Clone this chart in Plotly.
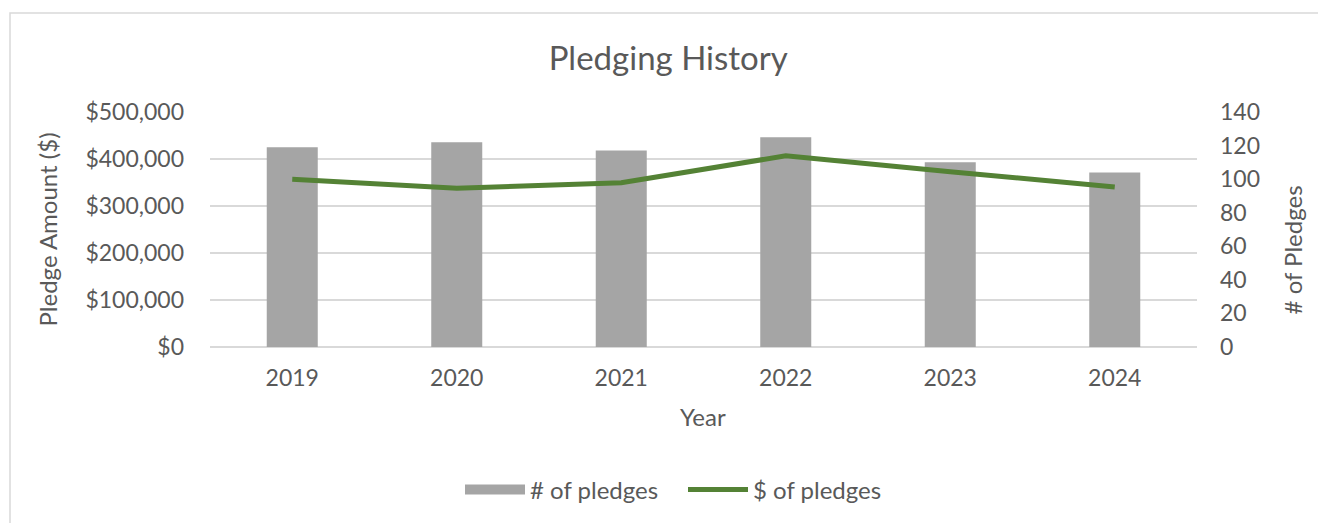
import plotly.graph_objects as go

years = ["2019", "2020", "2021", "2022", "2023", "2024"]
num_pledges = [119, 122, 117, 125, 110, 104]
dollar_pledges = [356800, 337700, 349600, 406800, 372900, 340500]
left_ticks = [0, 100000, 200000, 300000, 400000, 500000]
left_tick_text = ["$0", "$100,000", "$200,000", "$300,000", "$400,000", "$500,000"]
right_ticks = [0, 20, 40, 60, 80, 100, 120, 140]

FONT = "Lato"
TXT = "#595959"
GRID = "#d9d9d9"
BAR = "#a5a5a5"
LINE = "#548235"

W, H = 1318, 523
L, R, T, B = 210, 121, 112, 175
pw, ph = W - L - R, H - T - B

def px(x):
    return (x - L) / pw

def py(y):
    return (H - B - y) / ph

fig = go.Figure()
fig.add_trace(go.Bar(
    x=years, y=num_pledges, name="# of pledges",
    marker=dict(color=BAR, line=dict(width=0)),
    width=0.31, yaxis="y", showlegend=False,
))
# legend entry for the bars (wide grey swatch, as in the original)
fig.add_trace(go.Scatter(
    x=[None], y=[None], name="# of pledges", mode="lines",
    line=dict(color=BAR, width=13), yaxis="y", showlegend=True,
    hoverinfo="skip",
))
fig.add_trace(go.Scatter(
    x=years, y=dollar_pledges, name="$ of pledges", mode="lines",
    line=dict(color=LINE, width=5), yaxis="y2",
))

fig.update_layout(
    width=W, height=H,
    margin=dict(l=L, r=R, t=T, b=B),
    paper_bgcolor="white", plot_bgcolor="white",
    font=dict(family=FONT, color=TXT, size=23),
    title=dict(text="Pledging History", x=0.507, xanchor="center",
               y=1 - 58 / H, yanchor="middle",
               font=dict(family=FONT, size=33, color=TXT)),
    xaxis=dict(type="category", showgrid=False, showline=False,
               ticks="", tickfont=dict(size=23, color=TXT),
               ticklabelstandoff=15),
    yaxis=dict(side="right", range=[0, 140], tickvals=right_ticks,
               showgrid=False, zeroline=False, showline=False,
               tickfont=dict(size=23, color=TXT), ticklabelstandoff=22),
    yaxis2=dict(side="left", overlaying="y", range=[0, 500000],
                tickvals=left_ticks, ticktext=left_tick_text,
                showgrid=True, gridcolor=GRID, gridwidth=1.5,
                zeroline=True, zerolinecolor=GRID, zerolinewidth=1.5,
                showline=False, tickfont=dict(size=23, color=TXT),
                ticklabelstandoff=25),
    showlegend=True,
    legend=dict(orientation="h", x=px(683), xanchor="center",
                y=py(490), yanchor="middle",
                font=dict(size=24, color=TXT), traceorder="normal",
                itemwidth=60, entrywidth=148, entrywidthmode="pixels",
                bgcolor="rgba(0,0,0,0)"),
    bargap=0.69,
)

fig.add_annotation(text="Pledge Amount ($)", xref="paper", yref="paper",
                   x=px(47), y=py(230), textangle=-90, showarrow=False,
                   xanchor="center", yanchor="middle",
                   font=dict(size=24, color=TXT))
fig.add_annotation(text="# of Pledges", xref="paper", yref="paper",
                   x=px(1292), y=py(251), textangle=-90, showarrow=False,
                   xanchor="center", yanchor="middle",
                   font=dict(size=24, color=TXT))
fig.add_annotation(text="Year", xref="paper", yref="paper",
                   x=px(703), y=py(418), showarrow=False,
                   xanchor="center", yanchor="middle",
                   font=dict(size=24, color=TXT))

fig.add_shape(type="rect", xref="paper", yref="paper",
              x0=px(10), x1=px(1340), y0=py(560), y1=py(12.5),
              line=dict(color=GRID, width=1.5), fillcolor="rgba(0,0,0,0)",
              layer="below")

fig.write_html("out.html",
               config={"displayModeBar": False},
               post_script="document.body.style.margin='0';"
                           "document.body.style.overflow='hidden';")
